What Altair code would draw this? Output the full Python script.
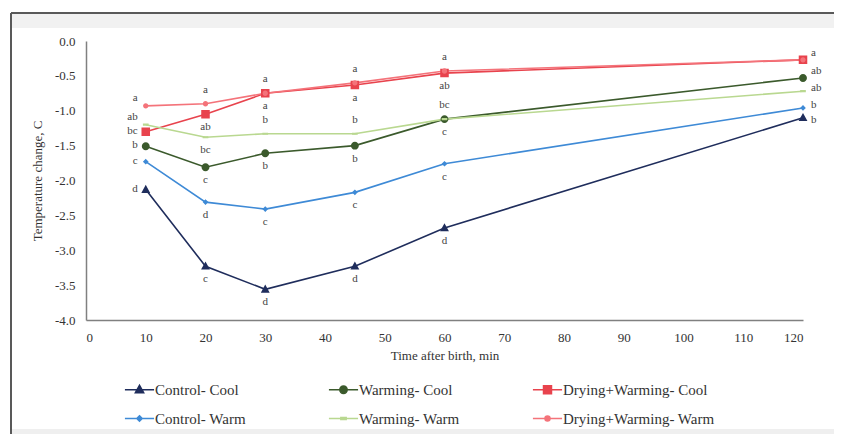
import altair as alt
import pandas as pd

times = [10, 20, 30, 45, 60, 120]
series_names = ["Control- Cool", "Warming- Cool", "Drying+Warming- Cool",
                "Control- Warm", "Warming- Warm", "Drying+Warming- Warm"]

control_cool = [-2.13, -3.23, -3.56, -3.23, -2.68, -1.10]
warming_cool = [-1.51, -1.81, -1.61, -1.50, -1.12, -0.53]
dry_warm_cool = [-1.30, -1.05, -0.75, -0.63, -0.46, -0.27]
control_warm = [-1.73, -2.31, -2.41, -2.17, -1.76, -0.96]
warming_warm = [-1.20, -1.38, -1.33, -1.33, -1.12, -0.72]
dry_warm_warm = [-0.93, -0.90, -0.75, -0.60, -0.43, -0.27]

letters_control_cool = ["d", "c", "d", "d", "d", "b"]
letters_warming_cool = ["b", "c", "b", "b", "c", "ab"]
letters_dry_warm_cool = ["bc", "ab", "a", "a", "ab", "a"]
letters_control_warm = ["c", "d", "c", "c", "c", "b"]
letters_warming_warm = ["ab", "bc", "b", "b", "bc", "ab"]
letters_dry_warm_warm = ["a", "a", "a", "a", "a", ""]

place_control_cool = ["left", "below", "below", "below", "below", "downright"]
place_warming_cool = ["left", "below", "below", "below", "below", "upright"]
place_dry_warm_cool = ["left", "below", "below", "below", "below", "upright"]
place_control_warm = ["left", "below", "below", "below", "below", "right"]
place_warming_warm = ["upleft", "below", "above", "above", "above", "right"]
place_dry_warm_warm = ["upleft", "above", "above", "above", "above", "right"]

y_ticks = [0, -0.5, -1, -1.5, -2, -2.5, -3, -3.5, -4]
x_ticks = list(range(0, 121, 10))

colors = ["#1f2d5c", "#3b5a2c", "#e8434d", "#3e8ad6", "#b9d890", "#f4737a"]
widths = [1.6, 1.6, 3.2, 1.6, 1.6, 3.2]
shapes = [
    "M-1,0H1M0,-0.3L0.28,0.21H-0.28Z",
    "M-1,0H1M0.25,0A0.25,0.25 0 1,1 -0.25,0A0.25,0.25 0 1,1 0.25,0Z",
    "M-1,0H1M-0.27,-0.27H0.27V0.27H-0.27Z",
    "M-1,0H1M0,-0.18L0.18,0L0,0.18L-0.18,0Z",
    "M-1,0H1M-0.18,-0.07H0.18V0.07H-0.18Z",
    "M-1,0H1M0.17,0A0.17,0.17 0 1,1 -0.17,0A0.17,0.17 0 1,1 0.17,0Z",
]

values = [control_cool, warming_cool, dry_warm_cool, control_warm, warming_warm, dry_warm_warm]
letters = [letters_control_cool, letters_warming_cool, letters_dry_warm_cool,
           letters_control_warm, letters_warming_warm, letters_dry_warm_warm]
places = [place_control_cool, place_warming_cool, place_dry_warm_cool,
          place_control_warm, place_warming_warm, place_dry_warm_warm]

rows = []
for name, vals, lets, pls in zip(series_names, values, letters, places):
    for t, v, l, p in zip(times, vals, lets, pls):
        rows.append({"series": name, "t": t, "v": v, "letter": l, "place": p})
df = pd.DataFrame(rows)

FONT = "Liberation Serif"

x_axis = alt.Axis(values=x_ticks, title="Time after birth, min",
                  grid=False, ticks=False, labelPadding=11, titlePadding=5,
                  domainColor="#808080", domainWidth=1.5, labelOverlap=False,
                  labelFont=FONT, labelFontSize=13, labelColor="#333",
                  titleFont=FONT, titleFontSize=13, titleFontWeight="normal",
                  titleColor="#333")
y_axis = alt.Axis(values=y_ticks,
                  labelExpr="replace(format(datum.value, '.1f'), '\u2212', '-')",
                  title="Temperature change, C", labelOverlap=False,
                  grid=False, ticks=False, labelPadding=11, titlePadding=10,
                  domainColor="#808080", domainWidth=1.5,
                  labelFont=FONT, labelFontSize=13, labelColor="#333",
                  titleFont=FONT, titleFontSize=13, titleFontWeight="normal",
                  titleColor="#333")

def xenc():
    return alt.X("t:Q", scale=alt.Scale(domain=[0, 120], nice=False), axis=x_axis)

def yenc():
    return alt.Y("v:Q", scale=alt.Scale(domain=[-4, 0], nice=False), axis=y_axis)

color_scale = alt.Scale(domain=series_names, range=colors)

legend = alt.Legend(
    title=None, orient="none", legendX=38, legendY=333, direction="horizontal",
    columns=3, gridAlign="all", columnPadding=18, rowPadding=5,
    symbolSize=850, labelOffset=0, symbolStrokeWidth=1.6, symbolOpacity=1,
    labelFont=FONT, labelFontSize=15, labelColor="#333")

lines = alt.Chart(df).mark_line(clip=False).encode(
    x=xenc(), y=yenc(),
    color=alt.Color("series:N", scale=color_scale, legend=legend),
    strokeWidth=alt.StrokeWidth("series:N", scale=alt.Scale(domain=series_names, range=widths), legend=None),
    order=alt.Order("t:Q"),
)

points = alt.Chart(df).mark_point(filled=True, strokeWidth=0, opacity=1, size=1000).encode(
    x=xenc(), y=yenc(),
    color=alt.Color("series:N", scale=color_scale, legend=legend),
    shape=alt.Shape("series:N", scale=alt.Scale(domain=series_names, range=shapes), legend=legend),
)

def label_layer(place, dx, dy, align):
    return alt.Chart(df).transform_filter(alt.datum.place == place).mark_text(
        font=FONT, fontSize=11, color="#444", dx=dx, dy=dy, align=align, baseline="middle"
    ).encode(x=xenc(), y=yenc(), text="letter:N")

labels = alt.layer(
    label_layer("above", 0, -14, "center"),
    label_layer("below", 0, 13, "center"),
    label_layer("left", -8, -1, "right"),
    label_layer("upleft", -8, -8, "right"),
    label_layer("right", 8, -3, "left"),
    label_layer("upright", 8, -7, "left"),
    label_layer("downright", 8, 2, "left"),
)

frame_top_strip = alt.Chart(df).mark_rect(color="#f1f1f1").encode(
    x=alt.value(-75), x2=alt.value(748), y=alt.value(-27), y2=alt.value(-13))
frame_top = alt.Chart(df).mark_rule(color="#5a5a5a", strokeWidth=1.5).encode(
    x=alt.value(-75), x2=alt.value(748), y=alt.value(-28))
frame_left = alt.Chart(df).mark_rule(color="#5a5a5a", strokeWidth=1.5).encode(
    x=alt.value(-75), y=alt.value(-28), y2=alt.value(393))
frame_bottom_strip = alt.Chart(df).mark_rect(color="#efefef").encode(
    x=alt.value(-74), x2=alt.value(748), y=alt.value(388), y2=alt.value(393))

chart = alt.layer(frame_top_strip, frame_bottom_strip, frame_top, frame_left,
                  lines, points, labels).properties(
    width=717, height=279,
    padding={"left": 2, "top": 4, "right": 0, "bottom": 0},
    background="white",
).configure_view(stroke=None).configure_axis(
    labelOverlap=False, labelFont=FONT, titleFont=FONT
).configure_legend(labelFont=FONT)

chart.save("out.html", embed_options={"renderer": "svg", "actions": False})
